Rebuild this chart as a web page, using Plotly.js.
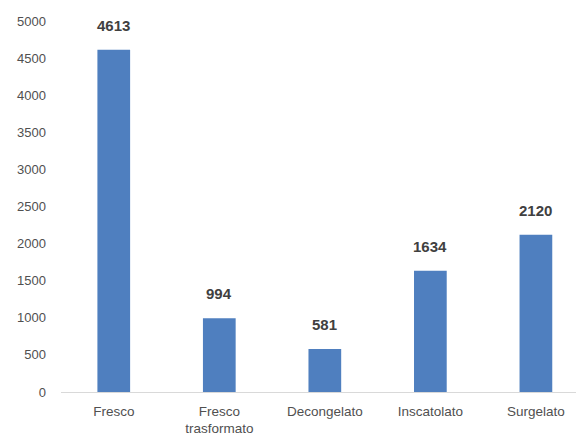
<!DOCTYPE html>
<html>
<head>
<meta charset="utf-8">
<script src="https://cdn.plot.ly/plotly-3.0.1.min.js"></script>
<style>
  html, body { margin: 0; padding: 0; background: #fff; overflow: hidden; }
  #chart { width: 576px; height: 440px; }
</style>
</head>
<body>
<div id="chart"></div>
<script>
// Product categories and their totals
const categories = ["Fresco", "Fresco<br>trasformato", "Decongelato", "Inscatolato", "Surgelato"];
const values = [4613, 994, 581, 1634, 2120];
const yTicks = [0, 500, 1000, 1500, 2000, 2500, 3000, 3500, 4000, 4500, 5000];

const barColor = "#4f7fbf";
const fontFamily = "Liberation Sans, Arial, sans-serif";

const trace = {
  type: "bar",
  x: categories,
  y: values,
  marker: { color: barColor },
  hoverinfo: "x+y"
};

// Value labels above each bar
const annotations = categories.map((c, i) => ({
  x: c,
  y: values[i],
  xref: "x",
  yref: "y",
  text: String(values[i]),
  showarrow: false,
  yanchor: "bottom",
  yshift: 14,
  font: { family: fontFamily, size: 15, color: "#404040", weight: "bold" }
}));

const layout = {
  width: 576,
  height: 440,
  margin: { l: 61, r: 0, t: 21, b: 48 },
  paper_bgcolor: "#ffffff",
  plot_bgcolor: "#ffffff",
  showlegend: false,
  bargap: 0.69,
  xaxis: {
    type: "category",
    range: [-0.5, 4.38],
    showgrid: false,
    zeroline: false,
    showline: false,
    ticks: "",
    tickfont: { family: fontFamily, size: 13.5, color: "#505050" },
    ticklabelstandoff: 9
  },
  yaxis: {
    range: [0, 5000],
    tickvals: yTicks,
    ticktext: yTicks.map(String),
    showgrid: false,
    zeroline: true,
    zerolinecolor: "#d9d9d9",
    zerolinewidth: 1,
    showline: false,
    ticks: "",
    tickfont: { family: fontFamily, size: 13, color: "#505050" },
    ticklabelstandoff: 14
  },
  annotations: annotations
};

Plotly.newPlot("chart", [trace], layout, { displayModeBar: false, staticPlot: true });
</script>
</body>
</html>
